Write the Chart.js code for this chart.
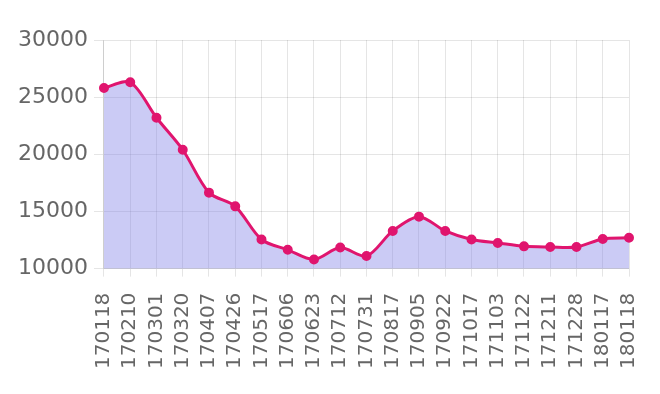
<!DOCTYPE html>
<html>
<head>
<meta charset="utf-8">
<script src="https://cdn.jsdelivr.net/npm/chart.js@4.4.0/dist/chart.umd.min.js"></script>
<style>
  html, body { margin: 0; padding: 0; background: #fff; }
</style>
</head>
<body>
<canvas id="myChart" width="660" height="394"></canvas>
<script>
var labels = ['170118', '170210', '170301', '170320', '170407', '170426', '170517',
              '170606', '170623', '170712', '170731', '170817', '170905', '170922',
              '171017', '171103', '171122', '171211', '171228', '180117', '180118'];
var prices = [25800, 26300, 23200, 20400, 16650, 15450, 12550,
              11650, 10800, 11850, 11100, 13300, 14550, 13300,
              12550, 12250, 11950, 11900, 11900, 12600, 12700];
var yMin = 10000;
var yMax = 30000;
var yStep = 5000;

var ctx = document.getElementById('myChart');
var chart = new Chart(ctx, {
    type: 'line',
    data: {
        labels: labels,
        datasets: [{
            data: prices,
            borderColor: '#e0156e',
            backgroundColor: 'rgba(130,130,230,0.42)',
            pointBackgroundColor: '#e0156e',
            pointBorderColor: '#e0156e',
            pointRadius: 3.5,
            borderWidth: 3,
            tension: 0.3,
            fill: 'origin'
        }]
    },
    options: {
        responsive: false,
        animation: false,
        layout: { padding: { top: 40, right: 9, left: 12, bottom: 9 } },
        plugins: {
            legend: { display: false },
            tooltip: { enabled: false }
        },
        scales: {
            x: {
                offset: false,
                grid: { color: 'rgba(0,0,0,0.1)', tickLength: 8 },
                ticks: {
                    color: '#666',
                    font: { family: 'DejaVu Sans', size: 20 },
                    minRotation: 90,
                    maxRotation: 90,
                    autoSkip: false,
                    padding: 16
                },
                // labels are vertical, so the last one only needs a little room
                afterFit: function(scale) { scale.paddingRight = 31; }
            },
            y: {
                min: yMin,
                max: yMax,
                grid: { color: 'rgba(0,0,0,0.1)', tickLength: 10 },
                ticks: {
                    stepSize: yStep,
                    color: '#666',
                    font: { family: 'DejaVu Sans', size: 22 },
                    padding: 6,
                    callback: function(v) { return String(v); }
                }
            }
        }
    }
});
</script>
</body>
</html>
